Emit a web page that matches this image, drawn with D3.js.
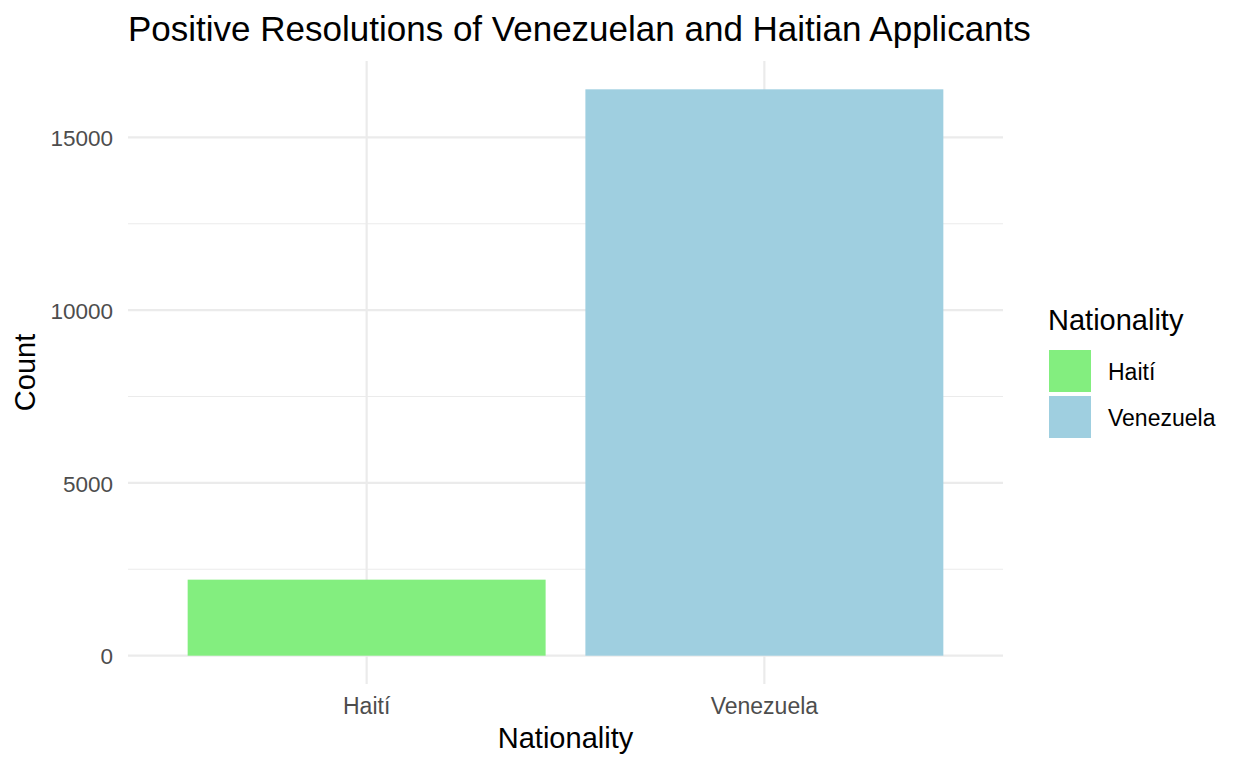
<!DOCTYPE html>
<html>
<head>
<meta charset="utf-8">
<script src="https://cdn.jsdelivr.net/npm/d3@7"></script>
<style>
  body { margin: 0; background: #fff; }
  text { font-family: "Liberation Sans", Arial, sans-serif; }
</style>
</head>
<body>
<svg></svg>
<script>
var categories = ["Haití", "Venezuela"]
var counts = [2200, 16390]
var barColors = ["#83EE7F", "#9FCFE0"]
var majorTicks = [0, 5000, 10000, 15000]
var minorTicks = [2500, 7500, 12500]

var width = 1248
var height = 768
var panel = { left: 128, right: 1003, top: 61, bottom: 684 }

var svg = d3.select("svg")
  .attr("width", width)
  .attr("height", height)

// discrete axis expanded by 0.6 of a step each side (ggplot default)
var x = d3.scaleBand()
  .domain(categories)
  .range([panel.left, panel.right])
  .paddingInner(0.1)
  .paddingOuter(0.15)

var yMax = d3.max(counts)
var y = d3.scaleLinear()
  .domain([-yMax * 0.05, yMax * 1.05])
  .range([panel.bottom, panel.top])

var color = d3.scaleOrdinal().domain(categories).range(barColors)

// gridlines
svg.append("g").selectAll("line")
  .data(minorTicks)
  .enter().append("line")
  .attr("x1", panel.left).attr("x2", panel.right)
  .attr("y1", d => y(d)).attr("y2", d => y(d))
  .attr("stroke", "#EBEBEB").attr("stroke-width", 1.1)

svg.append("g").selectAll("line")
  .data(majorTicks)
  .enter().append("line")
  .attr("x1", panel.left).attr("x2", panel.right)
  .attr("y1", d => y(d)).attr("y2", d => y(d))
  .attr("stroke", "#EBEBEB").attr("stroke-width", 2.2)

svg.append("g").selectAll("line")
  .data(categories)
  .enter().append("line")
  .attr("x1", d => x(d) + x.bandwidth() / 2).attr("x2", d => x(d) + x.bandwidth() / 2)
  .attr("y1", panel.top).attr("y2", panel.bottom)
  .attr("stroke", "#EBEBEB").attr("stroke-width", 2.2)

// bars
svg.append("g").selectAll("rect")
  .data(categories)
  .enter().append("rect")
  .attr("x", d => x(d))
  .attr("width", x.bandwidth())
  .attr("y", (d, i) => y(counts[i]))
  .attr("height", (d, i) => y(0) - y(counts[i]))
  .attr("fill", d => color(d))

// axes, text only like theme_minimal
var yAxis = svg.append("g")
  .attr("transform", "translate(" + (panel.left - 15) + ",0)")
  .call(d3.axisLeft(y).tickValues(majorTicks).tickSize(0).tickPadding(0).tickFormat(d3.format("d")))
yAxis.select(".domain").remove()
yAxis.selectAll("text").attr("fill", "#4D4D4D").style("font-size", "22.5px").attr("dy", "0.36em")

var xAxis = svg.append("g")
  .attr("transform", "translate(0,714)")
  .call(d3.axisBottom(x).tickSize(0).tickPadding(0))
xAxis.select(".domain").remove()
xAxis.selectAll("text").attr("fill", "#4D4D4D").style("font-size", "23px").attr("y", 0).attr("dy", 0)

// titles
svg.append("text")
  .attr("x", panel.left).attr("y", 41)
  .style("font-size", "35px").attr("fill", "#000")
  .text("Positive Resolutions of Venezuelan and Haitian Applicants")

svg.append("text")
  .attr("x", (panel.left + panel.right) / 2).attr("y", 748)
  .attr("text-anchor", "middle")
  .style("font-size", "29px").attr("fill", "#000")
  .text("Nationality")

svg.append("text")
  .attr("transform", "translate(35," + ((panel.top + panel.bottom) / 2) + ") rotate(-90)")
  .attr("text-anchor", "middle")
  .style("font-size", "29px").attr("fill", "#000")
  .text("Count")

// legend
var legend = svg.append("g").attr("transform", "translate(1049,0)")
legend.append("text")
  .attr("x", -1).attr("y", 330)
  .style("font-size", "29px").attr("fill", "#000")
  .text("Nationality")

var keys = legend.selectAll("g.key")
  .data(categories)
  .enter().append("g")
  .attr("transform", (d, i) => "translate(0," + (350 + i * 46) + ")")
keys.append("rect")
  .attr("width", 42).attr("height", 42)
  .attr("fill", d => color(d))
keys.append("text")
  .attr("x", 59).attr("y", 30)
  .style("font-size", "23px").attr("fill", "#000")
  .text(d => d)
</script>
</body>
</html>
